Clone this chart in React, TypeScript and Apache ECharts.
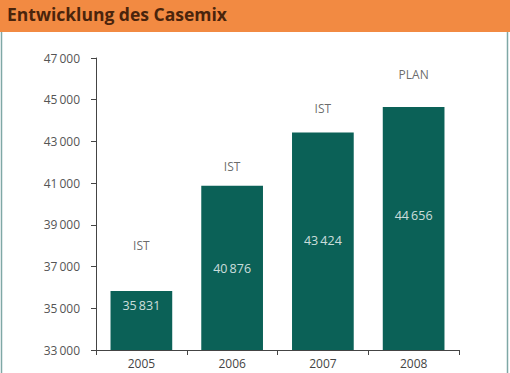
import React, { useEffect, useRef } from "react";
import * as echarts from "echarts";

const title = "Entwicklung des Casemix";
const categories = ["2005", "2006", "2007", "2008"];
const values = [35831, 40876, 43424, 44656];
const statusLabels = ["IST", "IST", "IST", "PLAN"];
// vertical positions (in data units) of the status labels above the bars
const statusLabelY = [38000, 41800, 44600, 46200];
// vertical positions (in data units) of the value labels inside the bars
const valueLabelY = [35150, 36930, 38270, 39470];
const yMin = 33000;
const yMax = 47000;
const yInterval = 2000;

const fmt = (v: number) => {
  const s = String(Math.round(v));
  return s.replace(/\B(?=(\d{3})+(?!\d))/g, "\u2009");
};

export default function App() {
  const ref = useRef<HTMLDivElement>(null);
  useEffect(() => {
    if (!ref.current) return;
    const chart = echarts.init(ref.current, null, { renderer: "svg" });
    const font = "'Open Sans', 'Noto Sans', sans-serif";
    chart.setOption({
      animation: false,
      backgroundColor: "#ffffff",
      textStyle: { fontFamily: font },
      grid: { left: 96, right: 51, top: 58, bottom: 23, containLabel: false },
      graphic: [
        {
          type: "rect",
          shape: { x: 0, y: 0, width: 510, height: 32 },
          style: { fill: "#f28a42" },
          z: 10,
        },
        {
          type: "line",
          shape: { x1: 1.5, y1: 32, x2: 1.5, y2: 373 },
          style: { stroke: "#7fa8a6", lineWidth: 1.5 },
        },
        {
          type: "line",
          shape: { x1: 507.5, y1: 32, x2: 507.5, y2: 373 },
          style: { stroke: "#7fa8a6", lineWidth: 1.5 },
        },
        {
          type: "text",
          x: 7,
          y: 5,
          z: 11,
          style: {
            text: title,
            fill: "#4a240c",
            font: "bold 17.5px 'Open Sans', 'Noto Sans', sans-serif",
          },
        },
      ],
      xAxis: {
        type: "category",
        data: categories,
        axisLine: { show: true, lineStyle: { color: "#444", width: 1 } },
        axisTick: { show: true, length: 5, lineStyle: { color: "#444" } },
        axisLabel: { color: "#444", fontSize: 12, margin: 7, fontFamily: font },
        splitLine: { show: false },
      },
      yAxis: {
        type: "value",
        min: yMin,
        max: yMax,
        interval: yInterval,
        axisLine: { show: true, lineStyle: { color: "#444", width: 1 } },
        axisTick: { show: true, length: 5, lineStyle: { color: "#444" } },
        axisLabel: {
          color: "#555",
          fontSize: 12,
          margin: 16,
          fontFamily: font,
          formatter: (v: number) => fmt(v),
        },
        splitLine: { show: false },
      },
      series: [
        {
          type: "bar",
          data: values,
          barWidth: "68%",
          itemStyle: { color: "#0b6157" },
          silent: true,
        },
        {
          type: "scatter",
          data: valueLabelY.map((y, i) => [categories[i], y, values[i]]),
          symbolSize: 0,
          silent: true,
          label: {
            show: true,
            position: "inside",
            color: "#ffffff",
            fontSize: 12.5,
            fontFamily: font,
            formatter: (p: any) => fmt(p.data[2]),
          },
          z: 5,
        },
        {
          type: "scatter",
          data: statusLabelY.map((y, i) => [categories[i], y, statusLabels[i]]),
          symbolSize: 0,
          silent: true,
          label: {
            show: true,
            position: "inside",
            color: "#444",
            fontSize: 12,
            fontFamily: font,
            formatter: (p: any) => p.data[2],
          },
          z: 5,
        },
      ],
    });
    return () => chart.dispose();
  }, []);
  return (
    <div
      ref={ref}
      style={{ position: "fixed", left: 0, top: 0, width: 510, height: 373 }}
    />
  );
}
